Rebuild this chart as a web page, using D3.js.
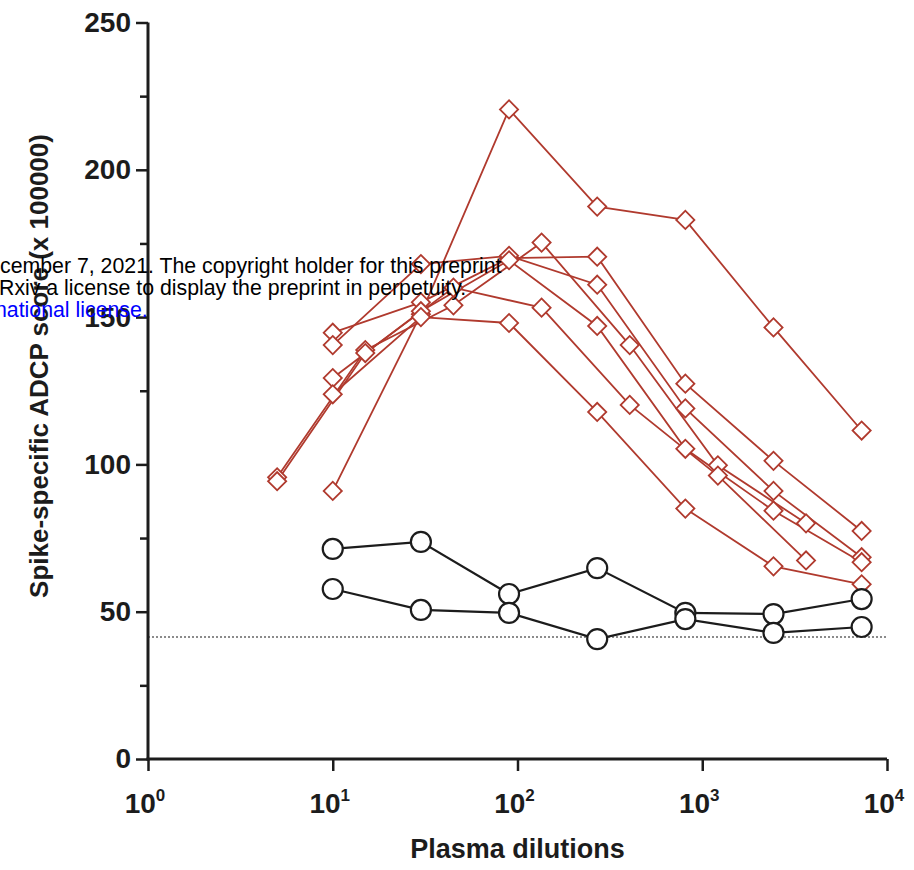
<!DOCTYPE html>
<html>
<head>
<meta charset="utf-8">
<script src="https://cdn.jsdelivr.net/npm/d3@7"></script>
<style>
  body { margin: 0; background: #fff; }
  svg { display: block; }
</style>
</head>
<body>
<div id="chart"></div>
<script>
// dilution series (two plate layouts: starting at 1:10 and at 1:5, 3-fold steps)
var dil10 = [10, 30, 90, 270, 810, 2430, 7290];
var dil5 = [5, 15, 45, 135, 405, 1215, 3645];

// convalescent plasma samples (red diamonds), ADCP score x 100000
var sampleA = [91, 151, 220.5, 187.5, 183, 146.5, 111.5];
var sampleD = [144.7, 155, 170, 170.5, 127.4, 101.2, 77.4];
var sampleE = [140.5, 168, 170.8, 161, 119, 91, 68.5];
var sampleF = [129.3, 152, 169.3, 147, 105.3, 84.3, 66.8];
var sampleG = [123.8, 150, 148, 117.8, 85, 65.4, 59.3];
var sampleB = [95.6, 138.8, 154, 175.3, 140.5, 99.7, 80];
var sampleC = [94.3, 137.8, 160, 153.2, 120.2, 96.2, 67.4];

// pre-pandemic controls (open circles)
var control1 = [71.3, 73.7, 56, 64.8, 49.6, 49.2, 54.3];
var control2 = [57.7, 50.6, 49.6, 40.7, 47.5, 42.8, 44.8];

var cutoff = 41.4;

var yMajor = [0, 50, 100, 150, 200, 250];
var yMinor = [25, 75, 125, 175, 225];
var xTicks = [1, 10, 100, 1000, 10000];

var width = 914, height = 870;
var red = "#b03a2e", ink = "#1c1c1c";

var svg = d3.select("#chart").append("svg")
  .attr("width", width).attr("height", height);

var x = d3.scaleLog().domain([1, 10000]).range([148, 887]);
var y = d3.scaleLinear().domain([0, 250]).range([759, 22.5]);

// cutoff line
svg.append("line")
  .attr("x1", x(1)).attr("x2", x(10000))
  .attr("y1", y(cutoff)).attr("y2", y(cutoff))
  .attr("stroke", "#666").attr("stroke-width", 1.5)
  .attr("stroke-dasharray", "2,2");

// axes
var yAxis = svg.append("g").attr("transform", "translate(" + x(1) + ",0)")
  .call(d3.axisLeft(y).tickValues(yMajor).tickSize(12).tickPadding(5));
var yMinorAxis = svg.append("g").attr("transform", "translate(" + x(1) + ",0)")
  .call(d3.axisLeft(y).tickValues(yMinor).tickSize(8).tickFormat(""));
var xAxis = svg.append("g").attr("transform", "translate(0," + y(0) + ")")
  .call(d3.axisBottom(x).tickValues(xTicks).tickSize(12).tickFormat(""));

[yAxis, yMinorAxis, xAxis].forEach(function(g) {
  g.select(".domain").attr("stroke", ink).attr("stroke-width", 3);
  g.selectAll(".tick line").attr("stroke", ink).attr("stroke-width", 2.5);
});
yMinorAxis.select(".domain").remove();
xAxis.select(".domain").attr("d", "M" + (x(1) - 1.5) + ",0H" + x(10000));
yAxis.select(".domain").attr("d", "M0," + y(250) + "V" + (y(0) + 1.5));

yAxis.selectAll(".tick text")
  .attr("font-family", "Liberation Sans, Arial, sans-serif")
  .attr("font-weight", "bold").attr("font-size", 28).attr("fill", ink);

// x tick labels as powers of ten
var xl = svg.append("g").selectAll("text").data(xTicks).join("text")
  .attr("x", function(d) { return x(d) - 3; })
  .attr("y", 813)
  .attr("text-anchor", "middle")
  .attr("font-family", "Liberation Sans, Arial, sans-serif")
  .attr("font-weight", "bold").attr("font-size", 28).attr("fill", ink);
xl.append("tspan").text("10");
xl.append("tspan").attr("dy", -12).attr("font-size", 17)
  .text(function(d) { return Math.round(Math.log10(d)); });

// axis titles
svg.append("text")
  .attr("x", x(100)).attr("y", 858)
  .attr("text-anchor", "middle")
  .attr("font-family", "Liberation Sans, Arial, sans-serif")
  .attr("font-weight", "bold").attr("font-size", 27).attr("fill", ink)
  .text("Plasma dilutions");

svg.append("text")
  .attr("transform", "translate(48,366) rotate(-90)")
  .attr("text-anchor", "middle")
  .attr("font-family", "Liberation Sans, Arial, sans-serif")
  .attr("font-weight", "bold").attr("font-size", 26).attr("fill", ink)
  .text("Spike-specific ADCP score (x 100000)");

// series
var samples = [
  { dil: dil10, values: sampleA },
  { dil: dil10, values: sampleD },
  { dil: dil10, values: sampleE },
  { dil: dil10, values: sampleF },
  { dil: dil10, values: sampleG },
  { dil: dil5, values: sampleB },
  { dil: dil5, values: sampleC }
].map(function(s) {
  return s.values.map(function(v, i) { return { d: s.dil[i], v: v }; });
});
var controls = [control1, control2].map(function(vals) {
  return vals.map(function(v, i) { return { d: dil10[i], v: v }; });
});

var line = d3.line().x(function(p) { return x(p.d); }).y(function(p) { return y(p.v); });

svg.append("g").selectAll("path").data(samples).join("path")
  .attr("d", line).attr("fill", "none")
  .attr("stroke", red).attr("stroke-width", 1.8);

svg.append("g").selectAll("path").data(controls).join("path")
  .attr("d", line).attr("fill", "none")
  .attr("stroke", ink).attr("stroke-width", 2.2);

var diamond = d3.symbol().type(d3.symbolSquare).size(165);
svg.append("g").selectAll("g").data(samples).join("g")
  .selectAll("path").data(function(s) { return s; }).join("path")
  .attr("d", diamond)
  .attr("transform", function(p) { return "translate(" + x(p.d) + "," + y(p.v) + ") rotate(45)"; })
  .attr("fill", "#fff").attr("stroke", red).attr("stroke-width", 1.8);

svg.append("g").selectAll("g").data(controls).join("g")
  .selectAll("circle").data(function(s) { return s; }).join("circle")
  .attr("cx", function(p) { return x(p.d); })
  .attr("cy", function(p) { return y(p.v); })
  .attr("r", 10)
  .attr("fill", "#fff").attr("stroke", ink).attr("stroke-width", 2.2);

// preprint watermark overlay (clipped at the left edge in the source)
var stamp = [
  { text: "cember 7, 2021. The copyright holder for this preprint", x: 0, y: 273, color: "#000" },
  { text: "Rxiv a license to display the preprint in perpetuity.", x: -1, y: 295, color: "#000" },
  { text: "national license.", x: -5, y: 317, color: "#0000ff" }
];
svg.append("g").selectAll("text").data(stamp).join("text")
  .attr("x", function(d) { return d.x; })
  .attr("y", function(d) { return d.y; })
  .attr("font-family", "Liberation Sans, Arial, sans-serif")
  .attr("font-size", 21.3)
  .attr("fill", function(d) { return d.color; })
  .text(function(d) { return d.text; });
</script>
</body>
</html>
